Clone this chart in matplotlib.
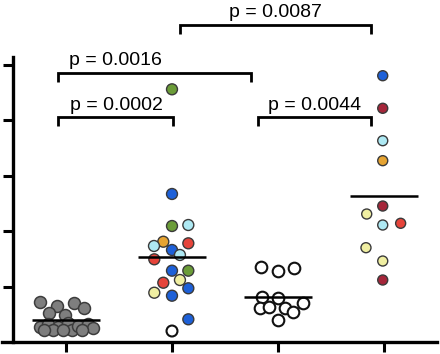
import matplotlib
matplotlib.use("Agg")
import matplotlib.pyplot as plt
import numpy as np

plt.rcParams['font.family'] = ['Liberation Sans', 'DejaVu Sans']

# ---- data ----
groups = [0, 1, 2, 3]

g1_vals = [0.721, 0.643, 0.703, 0.613, 0.523, 0.492, 0.265, 0.324, 0.265, 0.342,
           0.222, 0.283, 0.324, 0.252, 0.222, 0.222, 0.216, 0.216]
g1_jit = [-0.245, -0.082, 0.078, 0.173, -0.16, -0.009, -0.245, -0.167, -0.073, 0.022,
          0.054, 0.116, 0.205, 0.258, -0.12, -0.025, -0.208, 0.151]

g2_vals = [4.553, 2.667, 2.090, 2.108, 1.807, 1.730, 1.778, 1.658, 1.568, 1.490,
           1.285, 1.285, 1.117, 1.068, 0.888, 0.968, 0.834, 0.409, 0.198]
g2_jit = [0, 0, 0, 0.154, -0.082, -0.17, 0.154, 0, 0.075, -0.167,
          0, 0.154, 0.075, -0.082, -0.167, 0.154, 0, 0.154, 0]
g2_cols = ['green', 'blue', 'green', 'lcyan', 'gold', 'lcyan', 'red', 'blue', 'lcyan', 'red',
           'blue', 'green', 'yellow', 'red', 'yellow', 'blue', 'blue', 'blue', 'white']

g3_vals = [1.346, 1.285, 1.328, 0.816, 0.787, 0.697, 0.607, 0.625, 0.607, 0.535, 0.396]
g3_jit = [-0.16, 0, 0.154, -0.153, 0, 0.233, -0.17, -0.082, 0.066, 0.144, 0]

g4_vals = [4.798, 4.211, 3.627, 3.267, 2.450, 2.306, 2.108, 2.139, 1.699, 1.459, 1.117]
g4_jit = [-0.012, -0.012, -0.012, -0.012, -0.012, -0.163, -0.012, 0.157, -0.17, -0.012, -0.012]
g4_cols = ['blue', 'dred', 'lcyan', 'gold', 'dred', 'yellow', 'lcyan', 'red', 'yellow', 'yellow', 'dred']

means = [0.39, 1.537, 0.816, 2.636]

palette = {'blue': '#1d60d8', 'green': '#6b9c38', 'lcyan': '#aee9f3', 'gold': '#e6a432',
           'red': '#e6443a', 'yellow': '#f0efa2', 'dred': '#a5263a', 'white': '#ffffff'}

# brackets: (x1, x2, y, label, text_x, text_y)
brackets = [
    (-0.075, 1.009, 4.054, 'p = 0.0002', 0.476, 4.18),
    (-0.075, 1.745, 4.847, 'p = 0.0016', 0.47, 4.99),
    (1.811, 2.877, 4.054, 'p = 0.0044', 2.349, 4.18),
    (1.075, 2.877, 5.712, 'p = 0.0087', 1.972, 5.86),
]

# ---- figure ----
fig = plt.figure(figsize=(4.4, 3.54), dpi=100)
ax = fig.add_axes([0, 12 / 354, 1, 342 / 354])
ax.set_xlim(-66 / 106, (440 - 66) / 106)
ax.set_ylim(0, 342 / 55.5)

ax.scatter(np.array(g1_jit) + groups[0], g1_vals, s=74, c='#7e7e7e',
           edgecolors='#3c3c3c', linewidths=1.1, zorder=3)
ax.scatter(np.array(g2_jit) + groups[1], g2_vals, s=62,
           c=[palette[c] for c in g2_cols],
           edgecolors=['#111111' if c == 'white' else '#3a3a3a' for c in g2_cols],
           linewidths=[1.5 if c == 'white' else 1.0 for c in g2_cols], zorder=3)
ax.scatter(np.array(g3_jit) + groups[2], g3_vals, s=70, c='white',
           edgecolors='#111111', linewidths=1.5, zorder=3)
ax.scatter(np.array(g4_jit) + groups[3], g4_vals, s=52,
           c=[palette[c] for c in g4_cols], edgecolors='#3a3a3a', linewidths=1.0, zorder=3)

for g, m in zip(groups, means):
    ax.plot([g - 0.32, g + 0.32], [m, m], color='black', lw=1.8, zorder=4,
            solid_capstyle='butt')

leg = 0.17
for x1, x2, y, lab, tx, ty in brackets:
    ax.plot([x1, x1, x2, x2], [y - leg, y, y, y - leg], color='black', lw=2.0,
            solid_joinstyle='miter', solid_capstyle='butt', zorder=5)
    ax.text(tx, ty, lab, ha='center', va='baseline', fontsize=14, color='black')

for s in ['top', 'right']:
    ax.spines[s].set_visible(False)
ax.spines['left'].set_position(('data', -0.5))
ax.spines['left'].set_bounds(0, 5.135)
ax.spines['bottom'].set_bounds(-0.604, 3.5)
for s in ['left', 'bottom']:
    ax.spines[s].set_linewidth(2.4)
    ax.spines[s].set_color('black')

ax.set_xticks(groups)
ax.set_yticks([1, 2, 3, 4, 5])
ax.tick_params(axis='both', direction='out', length=7.2, width=2.2, color='black',
               labelleft=False, labelbottom=False)

fig.savefig('out.png', dpi=100)
